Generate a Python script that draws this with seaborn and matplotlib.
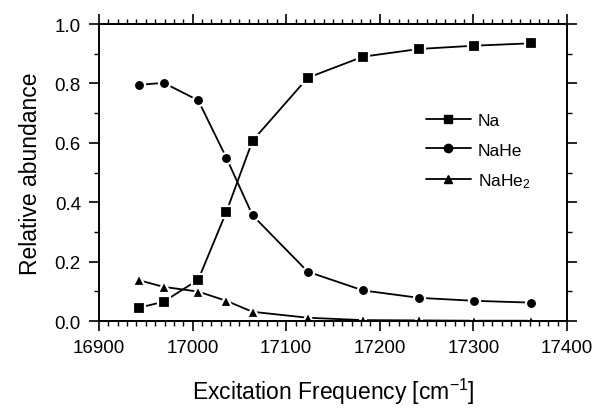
import pandas as pd
import matplotlib.pyplot as plt
import seaborn as sns
from matplotlib.ticker import MultipleLocator

# values
frequency = [16943, 16969, 17006, 17036, 17064, 17123, 17182, 17242, 17301, 17361]
na = [0.045, 0.065, 0.139, 0.367, 0.607, 0.819, 0.890, 0.916, 0.927, 0.935]
nahe = [0.795, 0.802, 0.743, 0.550, 0.356, 0.166, 0.103, 0.078, 0.068, 0.062]
nahe2 = [0.137, 0.115, 0.099, 0.068, 0.031, 0.011, 0.003, 0.002, 0.001, 0.001]
species = ['Na', 'NaHe', 'NaHe$_2$']

df = pd.DataFrame({
    'freq': frequency * 3,
    'abundance': na + nahe + nahe2,
    'species': [s for s in species for _ in frequency],
})

sns.set_theme(style="ticks")
plt.rcParams['font.family'] = ['Liberation Sans', 'DejaVu Sans']
plt.rcParams['mathtext.fontset'] = 'custom'
plt.rcParams['mathtext.rm'] = 'Liberation Sans'
plt.rcParams['mathtext.it'] = 'Liberation Sans'
for key in ['text.color', 'axes.labelcolor', 'xtick.color', 'ytick.color']:
    plt.rcParams[key] = 'black'

fig = plt.figure(figsize=(5.95, 4.10), dpi=100)
ax = fig.add_axes([0.1664, 0.2146, 0.7866, 0.7244])

sns.lineplot(
    data=df, x='freq', y='abundance', style='species',
    markers={'Na': 's', 'NaHe': 'o', 'NaHe$_2$': '^'},
    dashes=False, color='black', linewidth=1.3, markersize=8,
    markeredgecolor='white', markeredgewidth=1.6, ax=ax, legend=False,
)

# legend with small markers like the original
handles = []
for s, m in zip(species, ['s', 'o', '^']):
    h, = ax.plot([], [], color='black', linewidth=1.3, marker=m, markersize=6,
                 markeredgecolor='black', label=s)
    handles.append(h)
ax.legend(handles=handles, loc='center left', bbox_to_anchor=(0.683, 0.57),
          frameon=False, fontsize=12.5, handlelength=2.6, handletextpad=0.4,
          labelspacing=0.8, borderaxespad=0)

ax.set_xlim(16900, 17400)
ax.set_ylim(0, 1.0)
ax.xaxis.set_major_locator(MultipleLocator(100))
ax.xaxis.set_minor_locator(MultipleLocator(10))
ax.yaxis.set_major_locator(MultipleLocator(0.2))
ax.yaxis.set_minor_locator(MultipleLocator(0.1))
ax.yaxis.set_major_formatter(plt.FormatStrFormatter('%.1f'))

ax.tick_params(which='both', direction='out', top=True, right=True, color='black')
ax.tick_params(which='major', length=7, width=1.2, labelsize=13.5, pad=6)
ax.tick_params(which='minor', length=3.5, width=1.0)
for sp in ax.spines.values():
    sp.set_linewidth(1.4)
    sp.set_color('black')

ax.set_xlabel('Excitation Frequency [cm$^{-1}$]', fontsize=16.5, labelpad=14)
ax.set_ylabel('Relative abundance', fontsize=16.5, labelpad=9)

fig.savefig('out.png', dpi=100)
